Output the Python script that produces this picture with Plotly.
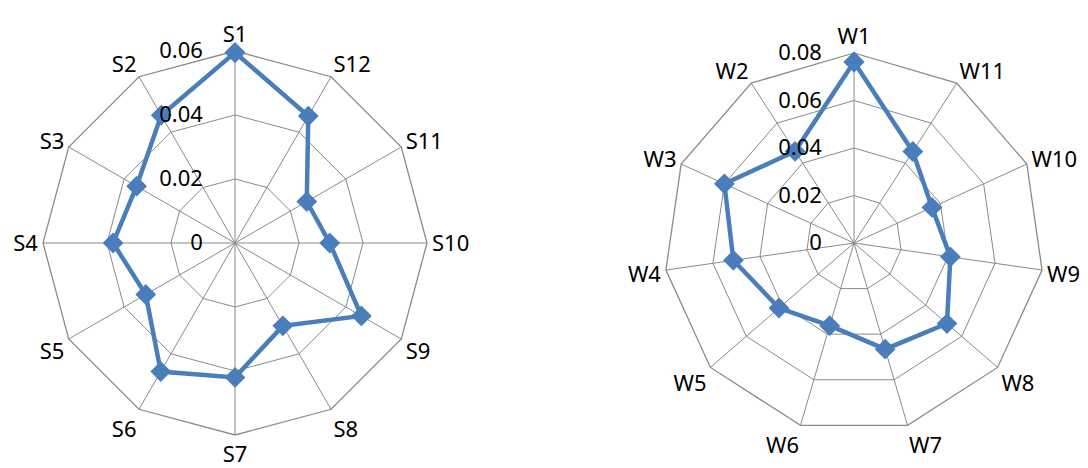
import plotly.graph_objects as go

s_labels = ["S1", "S2", "S3", "S4", "S5", "S6", "S7", "S8", "S9", "S10", "S11", "S12"]
s_values = [0.0595, 0.0461, 0.0355, 0.0381, 0.0322, 0.0464, 0.0420, 0.0299, 0.0456, 0.0296, 0.0259, 0.0458]

w_labels = ["W1", "W2", "W3", "W4", "W5", "W6", "W7", "W8", "W9", "W10", "W11"]
w_values = [0.0762, 0.0459, 0.0600, 0.0513, 0.0418, 0.0363, 0.0466, 0.0518, 0.0410, 0.0361, 0.0458]

s_ticks = [0, 0.02, 0.04, 0.06]
w_ticks = [0, 0.02, 0.04, 0.06, 0.08]

BLUE = "#4a7ebb"
GRID = "#8a8a8a"
FONT = "Noto Sans"

fig = go.Figure()
fig.add_trace(go.Scatterpolar(
    r=s_values + s_values[:1], theta=s_labels + s_labels[:1],
    mode="lines+markers", subplot="polar",
    line=dict(color=BLUE, width=4.5),
    marker=dict(symbol="diamond", size=16, color=BLUE),
    showlegend=False,
))
fig.add_trace(go.Scatterpolar(
    r=w_values + w_values[:1], theta=w_labels + w_labels[:1],
    mode="lines+markers", subplot="polar2",
    line=dict(color=BLUE, width=4.5),
    marker=dict(symbol="diamond", size=16, color=BLUE),
    showlegend=False,
))

W, H = 1088, 468

def polar_layout(cx, cy, rad, ticks, cats):
    return dict(
        domain=dict(x=[(cx - rad) / W, (cx + rad) / W],
                    y=[(H - cy - rad) / H, (H - cy + rad) / H]),
        gridshape="linear",
        bgcolor="white",
        radialaxis=dict(
            range=[ticks[0], ticks[-1]], tickvals=ticks,
            ticktext=[f"{t:g}" for t in ticks],
            angle=90, side="counterclockwise", tickangle=90,
            showline=False, ticks="outside", ticklen=24,
            tickcolor="rgba(0,0,0,0)",
            gridcolor=GRID, gridwidth=1.3,
            tickfont=dict(family=FONT, size=22, color="black"),
            layer="above traces",
        ),
        angularaxis=dict(
            categoryarray=cats, categoryorder="array",
            direction="counterclockwise", rotation=90,
            showline=True, linecolor=GRID, linewidth=1.3,
            gridcolor=GRID, gridwidth=1.3, ticks="",
            tickfont=dict(family=FONT, size=22, color="black"),
            layer="below traces",
        ),
    )

fig.update_layout(
    width=W, height=H,
    margin=dict(l=0, r=0, t=0, b=0),
    paper_bgcolor="white", plot_bgcolor="white",
    polar=polar_layout(235, 243, 192, s_ticks, s_labels),
    polar2=polar_layout(854, 243, 190, w_ticks, w_labels),
)

fig.write_html("out.html", config={"displayModeBar": False},
               post_script="document.body.style.margin='0px';")
